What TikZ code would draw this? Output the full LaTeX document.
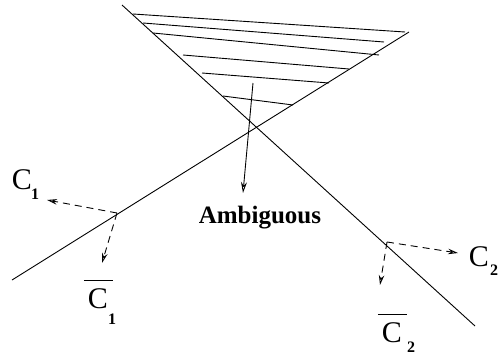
\documentclass[tikz,border=0pt]{standalone}
\usepackage{fontspec}
\setmainfont{Liberation Serif}
\usetikzlibrary{arrows.meta,calc}
\tikzset{
  cutline/.style={line width=0.9pt},
  hatchline/.style={line width=0.9pt},
  solidarrow/.style={line width=0.9pt,-{Stealth[open,length=11pt,width=6pt]}},
  dasharrow/.style={line width=0.9pt,dash pattern=on 7pt off 5pt,-{Stealth[open,length=10pt,width=5.5pt]}},
  bigc/.style={font=\fontsize{30}{32}\selectfont,inner sep=0pt},
  subnum/.style={font=\fontsize{16}{18}\selectfont\bfseries,inner sep=0pt},
}
% C label with its subscript set apart, as in the figure
\newcommand{\clabel}[4]{%
  \node[bigc] (#1) at (#2) {C};
  \node[subnum] (#1sub) at (#3) {#4};
}
\newcommand{\cbarlabel}[4]{%
  \clabel{#1}{#2}{#3}{#4}
  \draw[line width=0.9pt] ($(#1.north west)+(-4,-8)$) -- ++(29,0);
}

\begin{document}
\begin{tikzpicture}[x=1pt,y=-1pt]
  \useasboundingbox (0,0) rectangle (501,356);
  % the two cuts
  \coordinate (a1) at (12,280);  \coordinate (a2) at (409,32);
  \coordinate (b1) at (122,5);   \coordinate (b2) at (475,326);
  \draw[cutline] (a1) -- (a2);
  \draw[cutline] (b1) -- (b2);
  % hatched wedge
  \foreach \xa/\ya/\xb/\yb in {133/14/405/32, 143/23/384/42, 153/33/379/55,
                              183/55/349/69, 202/73/329/83, 223/96/293/105}
    \draw[hatchline] (\xa,\ya) -- (\xb,\yb);
  % ambiguous region
  \node[font=\fontsize{25}{27}\selectfont\bfseries,inner sep=0pt] (amb) at (260,218) {Ambiguous};
  \coordinate (amstart) at (253,83);
  \coordinate (amtip) at (243,193);
  \draw[solidarrow] (amstart) -- (amtip);
  % labels
  \clabel{c1}{22,180}{35,194}{1}
  \cbarlabel{cb1}{98,299}{112,319}{1}
  \clabel{c2}{479,257}{494,270}{2}
  \cbarlabel{cb2}{392,333}{411,347}{2}
  % normals on the cuts
  \coordinate (n1) at (117,213);
  \coordinate (n1a) at (47,200);
  \coordinate (n1b) at (102,263);
  \coordinate (n2) at (387,242);
  \coordinate (n2a) at (458,253);
  \coordinate (n2b) at (380,285);
  \draw[dasharrow] (n1) -- (n1a);
  \draw[dasharrow] (n1) -- (n1b);
  \draw[dasharrow] (n2) -- (n2a);
  \draw[dasharrow] (n2) -- (n2b);
\end{tikzpicture}
\end{document}
